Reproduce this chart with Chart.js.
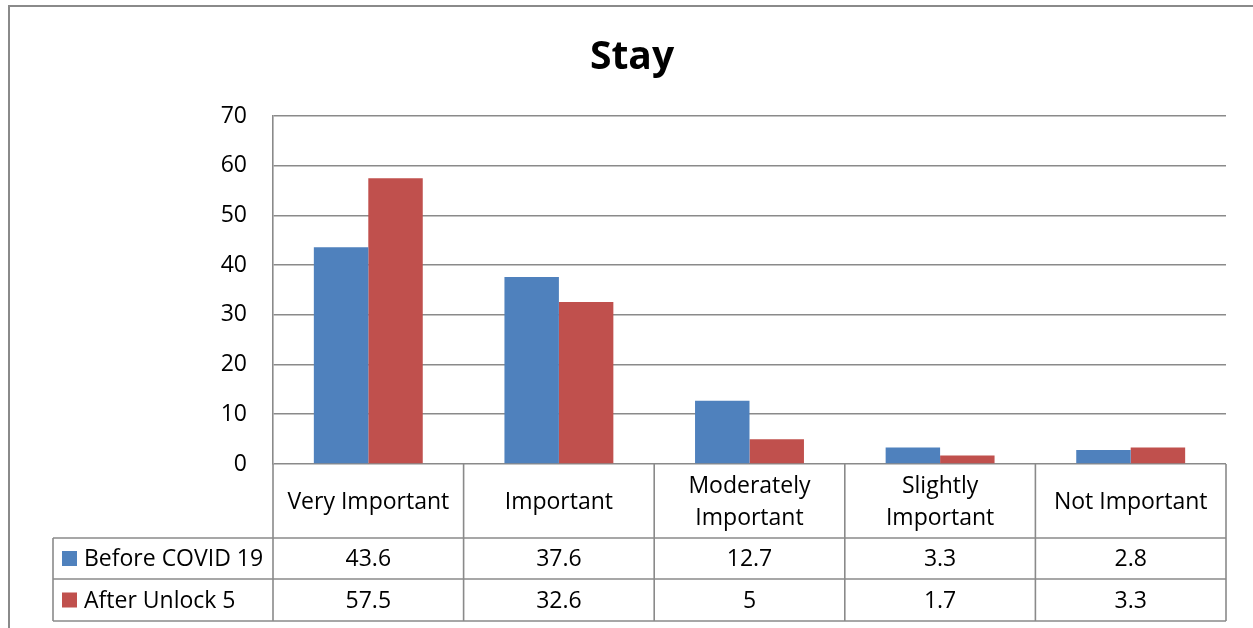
<!DOCTYPE html>
<html>
<head>
<meta charset="utf-8">
<script src="https://cdn.jsdelivr.net/npm/chart.js@4"></script>
<style>
  html, body { margin: 0; padding: 0; background: #fff; }
  #wrap { width: 1253px; height: 628px; position: relative; }
</style>
</head>
<body>
<div id="wrap"><canvas id="c" width="1253" height="628"></canvas></div>
<script>
// Survey data: importance of "Stay"
const chartTitle = 'Stay';
const categories = [
  ['Very Important'],
  ['Important'],
  ['Moderately', 'Important'],
  ['Slightly', 'Important'],
  ['Not Important']
];
const seriesNames = ['Before COVID 19', 'After Unlock 5'];
const beforeCovid = [43.6, 37.6, 12.7, 3.3, 2.8];
const afterUnlock = [57.5, 32.6, 5, 1.7, 3.3];
const yTicks = [0, 10, 20, 30, 40, 50, 60, 70];

const BLUE = '#4F81BD';
const RED = '#C0504D';
const LINE = '#8a8a8a';
const FONT = '"Open Sans", "Liberation Sans", sans-serif';

// Frame, title and data table drawn around the plot
const decor = {
  id: 'decor',
  afterDraw(chart) {
    const ctx = chart.ctx;
    const area = chart.chartArea;
    const xs = chart.scales.x;
    const n = categories.length;
    const step = (area.right - area.left) / n;
    const bounds = [];
    for (let i = 0; i <= n; i++) bounds.push(area.left + step * i);

    ctx.save();
    // outer frame
    ctx.strokeStyle = LINE;
    ctx.lineWidth = 2;
    ctx.beginPath();
    ctx.moveTo(9, 640);
    ctx.lineTo(9, 6);
    ctx.lineTo(1260, 6);
    ctx.stroke();

    // title
    ctx.fillStyle = '#000';
    ctx.font = 'bold 39px ' + FONT;
    ctx.textAlign = 'center';
    ctx.textBaseline = 'middle';
    ctx.fillText(chartTitle, 632, 58);

    // table geometry
    const top = area.bottom;
    const r1 = 538, r2 = 579, r3 = 621;
    const legendLeft = 53;

    ctx.lineWidth = 1.6;
    ctx.strokeStyle = LINE;
    ctx.beginPath();
    [r1, r2, r3].forEach(y => { ctx.moveTo(legendLeft, y); ctx.lineTo(area.right, y); });
    ctx.moveTo(legendLeft, r1); ctx.lineTo(legendLeft, r3);
    bounds.forEach(x => { ctx.moveTo(x, top); ctx.lineTo(x, r3); });
    ctx.stroke();

    // category labels
    ctx.font = '23px ' + FONT;
    ctx.fillStyle = '#000';
    ctx.textAlign = 'center';
    ctx.textBaseline = 'middle';
    const catMid = (top + r1) / 2 + 1;
    categories.forEach((lines, i) => {
      const cx = xs.getPixelForValue(i);
      const lh = 32;
      const y0 = catMid - (lines.length - 1) * lh / 2;
      lines.forEach((t, k) => ctx.fillText(t, cx, y0 + k * lh));
    });

    // values rows
    const rows = [
      { name: seriesNames[0], color: BLUE, vals: beforeCovid, mid: (r1 + r2) / 2 },
      { name: seriesNames[1], color: RED, vals: afterUnlock, mid: (r2 + r3) / 2 }
    ];
    rows.forEach(r => {
      ctx.fillStyle = r.color;
      ctx.fillRect(62, r.mid - 7.5, 15, 15);
      ctx.fillStyle = '#000';
      ctx.textAlign = 'left';
      ctx.fillText(r.name, 84, r.mid + 1);
      ctx.textAlign = 'center';
      r.vals.forEach((v, i) => ctx.fillText(String(v), xs.getPixelForValue(i), r.mid + 1));
    });
    ctx.restore();
  }
};

new Chart(document.getElementById('c'), {
  type: 'bar',
  data: {
    labels: categories,
    datasets: [
      { label: seriesNames[0], data: beforeCovid, backgroundColor: BLUE },
      { label: seriesNames[1], data: afterUnlock, backgroundColor: RED }
    ]
  },
  options: {
    responsive: false,
    animation: false,
    devicePixelRatio: 1,
    layout: { padding: { top: 116, bottom: 164, left: 193, right: 27 } },
    datasets: { bar: { categoryPercentage: 2 / 3.5, barPercentage: 1 } },
    plugins: {
      legend: { display: false },
      title: { display: false },
      tooltip: { enabled: false }
    },
    scales: {
      x: { display: false },
      y: {
        min: 0,
        max: 70,
        afterFit(scale) { scale.width = 80; },
        afterBuildTicks(scale) { scale.ticks = yTicks.map(v => ({ value: v })); },
        border: { display: true, color: LINE, width: 1.6 },
        grid: { color: LINE, lineWidth: 1.6, drawTicks: false },
        ticks: {
          padding: 26,
          color: '#000',
          font: { family: FONT, size: 23 }
        }
      }
    }
  },
  plugins: [decor]
});
</script>
</body>
</html>
